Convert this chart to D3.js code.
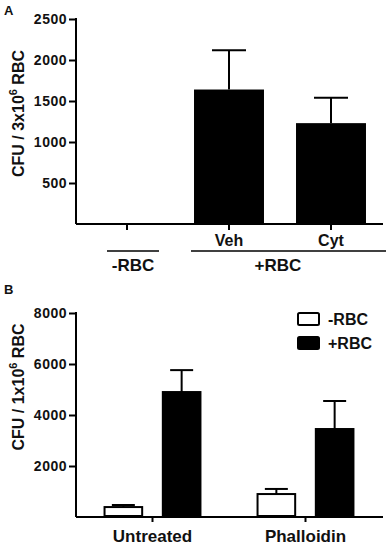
<!DOCTYPE html>
<html>
<head>
<meta charset="utf-8">
<script src="https://cdn.jsdelivr.net/npm/d3@7"></script>
<style>
  body { margin: 0; background: #fff; }
  svg text { font-family: "Liberation Sans", Arial, Helvetica, sans-serif; font-weight: bold; fill: #111; }
</style>
</head>
<body>
<div id="app"></div>
<script>
// panel A data
const aCategories = ["-RBC", "Veh", "Cyt"];
const aTickLabels = ["", "Veh", "Cyt"];
const aValues = [0, 1640, 1230];
const aErrors = [0, 480, 310];
const aYTicks = [500, 1000, 1500, 2000, 2500];
const aGroups = ["-RBC", "+RBC"];
const aGroupMembers = [["-RBC"], ["Veh", "Cyt"]];

// panel B data
const bGroups = ["Untreated", "Phalloidin"];
const bSeries = ["-RBC", "+RBC"];
const bMinusValues = [390, 900];
const bMinusErrors = [80, 200];
const bPlusValues = [4900, 3450];
const bPlusErrors = [860, 1100];
const bYTicks = [2000, 4000, 6000, 8000];

const width = 392, height = 550;

const svg = d3.select("#app").append("svg")
  .attr("width", width)
  .attr("height", height);

// ---------- panel A ----------
const xA = d3.scaleBand()
  .domain(aCategories)
  .range([76, 382])
  .paddingInner(0.314)
  .paddingOuter(0.157);

const yA = d3.scaleLinear().domain([0, 2500]).range([224, 19]);

const gA = svg.append("g");

gA.append("text").attr("x", 4).attr("y", 15).style("font-size", "13px").text("A");

const yAxisA = gA.append("g")
  .attr("transform", "translate(76,0)")
  .call(d3.axisLeft(yA).tickValues(aYTicks).tickFormat(d3.format("d")).tickSize(7).tickPadding(2).tickSizeOuter(0));

const xAxisA = gA.append("g")
  .attr("transform", `translate(0,${yA(0)})`)
  .call(d3.axisBottom(xA).tickFormat((d, i) => aTickLabels[i]).tickSize(6).tickPadding(5).tickSizeOuter(0));

[yAxisA, xAxisA].forEach((ax) => {
  ax.selectAll("path, line").attr("stroke", "#000").attr("stroke-width", 2);
  ax.selectAll("text").style("font-size", "14px").attr("fill", "#111");
});
yAxisA.select(".domain").attr("d", `M0,${yA(0)}V${yA(2500) - 1}`);
xAxisA.select(".domain").attr("d", `M76,0H383`);
xAxisA.selectAll("text").style("font-size", "16px");
yAxisA.selectAll("text").style("letter-spacing", "0.5px");

const aData = aCategories.map((c, i) => ({ cat: c, value: aValues[i], err: aErrors[i] }));

gA.append("g").selectAll("rect")
  .data(aData.filter((d) => d.value > 0))
  .join("rect")
  .attr("x", (d) => xA(d.cat))
  .attr("y", (d) => yA(d.value))
  .attr("width", xA.bandwidth())
  .attr("height", (d) => yA(0) - yA(d.value))
  .attr("fill", "#000");

const errA = gA.append("g").attr("stroke", "#000").attr("stroke-width", 2)
  .selectAll("g")
  .data(aData.filter((d) => d.err > 0))
  .join("g");
errA.append("line")
  .attr("x1", (d) => xA(d.cat) + xA.bandwidth() / 2)
  .attr("x2", (d) => xA(d.cat) + xA.bandwidth() / 2)
  .attr("y1", (d) => yA(d.value))
  .attr("y2", (d) => yA(d.value + d.err));
errA.append("line")
  .attr("x1", (d) => xA(d.cat) + xA.bandwidth() / 2 - 17)
  .attr("x2", (d) => xA(d.cat) + xA.bandwidth() / 2 + 17)
  .attr("y1", (d) => yA(d.value + d.err))
  .attr("y2", (d) => yA(d.value + d.err));

// group brackets under the x labels
const bracketPad = [[20, 32], [38, 55]];
const brackets = gA.append("g");
aGroups.forEach((name, i) => {
  const members = aGroupMembers[i];
  const c0 = xA(members[0]) + xA.bandwidth() / 2;
  const c1 = xA(members[members.length - 1]) + xA.bandwidth() / 2;
  const x0 = c0 - bracketPad[i][0], x1 = c1 + bracketPad[i][1];
  brackets.append("line")
    .attr("x1", x0).attr("x2", x1)
    .attr("y1", 251).attr("y2", 251)
    .attr("stroke", "#000").attr("stroke-width", 1.5);
  brackets.append("text")
    .attr("x", i === 0 ? (x0 + x1) / 2 : (c0 + c1) / 2 - 2)
    .attr("y", 271)
    .attr("text-anchor", "middle")
    .style("font-size", "17px")
    .text(name);
});

gA.append("text")
  .attr("transform", `translate(24,${(yA(0) + yA(2500)) / 2 - 8}) rotate(-90)`)
  .attr("text-anchor", "middle")
  .style("font-size", "16px")
  .call((t) => {
    t.append("tspan").text("CFU / 3x10");
    t.append("tspan").attr("dy", -7).style("font-size", "11px").text("6");
    t.append("tspan").attr("dy", 7).text(" RBC");
  });

// ---------- panel B ----------
const x0B = d3.scaleBand()
  .domain(bGroups)
  .range([76, 382])
  .paddingInner(0.36)
  .paddingOuter(0.18);

const x1B = d3.scaleBand()
  .domain(bSeries)
  .range([0, x0B.bandwidth()])
  .paddingInner(0.32)
  .paddingOuter(0);

const yB = d3.scaleLinear().domain([0, 8000]).range([517, 313]);

const gB = svg.append("g");

gB.append("text").attr("x", 4).attr("y", 294).style("font-size", "13px").text("B");

const yAxisB = gB.append("g")
  .attr("transform", "translate(76,0)")
  .call(d3.axisLeft(yB).tickValues(bYTicks).tickFormat(d3.format("d")).tickSize(7).tickPadding(2).tickSizeOuter(0));

const xAxisB = gB.append("g")
  .attr("transform", `translate(0,${yB(0)})`)
  .call(d3.axisBottom(x0B).tickSize(5).tickPadding(8).tickSizeOuter(0));

[yAxisB, xAxisB].forEach((ax) => {
  ax.selectAll("path, line").attr("stroke", "#000").attr("stroke-width", 2);
  ax.selectAll("text").style("font-size", "14px").attr("fill", "#111");
});
yAxisB.select(".domain").attr("d", `M0,${yB(0)}V${yB(8000) - 1}`);
xAxisB.select(".domain").attr("d", `M76,0H383`);
xAxisB.selectAll("text").style("font-size", "17px");
yAxisB.selectAll("text").style("letter-spacing", "0.5px");

const bData = [];
bGroups.forEach((g, i) => {
  bData.push({ group: g, series: "-RBC", value: bMinusValues[i], err: bMinusErrors[i] });
  bData.push({ group: g, series: "+RBC", value: bPlusValues[i], err: bPlusErrors[i] });
});

const fillB = d3.scaleOrdinal().domain(bSeries).range(["#fff", "#000"]);
const cx = (d) => x0B(d.group) + x1B(d.series) + x1B.bandwidth() / 2;

const errB = gB.append("g").attr("stroke", "#000").attr("stroke-width", 2)
  .selectAll("g").data(bData).join("g");
errB.append("line")
  .attr("x1", cx).attr("x2", cx)
  .attr("y1", (d) => yB(d.value))
  .attr("y2", (d) => yB(d.value + d.err));
errB.append("line")
  .attr("x1", (d) => cx(d) - 11.5)
  .attr("x2", (d) => cx(d) + 11.5)
  .attr("y1", (d) => yB(d.value + d.err))
  .attr("y2", (d) => yB(d.value + d.err));

gB.append("g").selectAll("rect")
  .data(bData)
  .join("rect")
  .attr("x", (d) => x0B(d.group) + x1B(d.series) + 1)
  .attr("y", (d) => yB(d.value))
  .attr("width", x1B.bandwidth() - 2)
  .attr("height", (d) => yB(0) - yB(d.value) - 1)
  .attr("fill", (d) => fillB(d.series))
  .attr("stroke", "#000")
  .attr("stroke-width", 2);

// legend
const legend = gB.append("g").selectAll("g")
  .data(bSeries)
  .join("g")
  .attr("transform", (d, i) => `translate(298,${313 + i * 24})`);
legend.append("rect")
  .attr("width", 21).attr("height", 12).attr("rx", 1.5)
  .attr("fill", (d) => fillB(d))
  .attr("stroke", "#000").attr("stroke-width", 2);
legend.append("text")
  .attr("x", 30).attr("y", 12)
  .style("font-size", "16px")
  .text((d) => d);

gB.append("text")
  .attr("transform", `translate(24,${(yB(0) + yB(8000)) / 2 - 28}) rotate(-90)`)
  .attr("text-anchor", "middle")
  .style("font-size", "16px")
  .call((t) => {
    t.append("tspan").text("CFU / 1x10");
    t.append("tspan").attr("dy", -7).style("font-size", "11px").text("6");
    t.append("tspan").attr("dy", 7).text(" RBC");
  });
</script>
</body>
</html>
